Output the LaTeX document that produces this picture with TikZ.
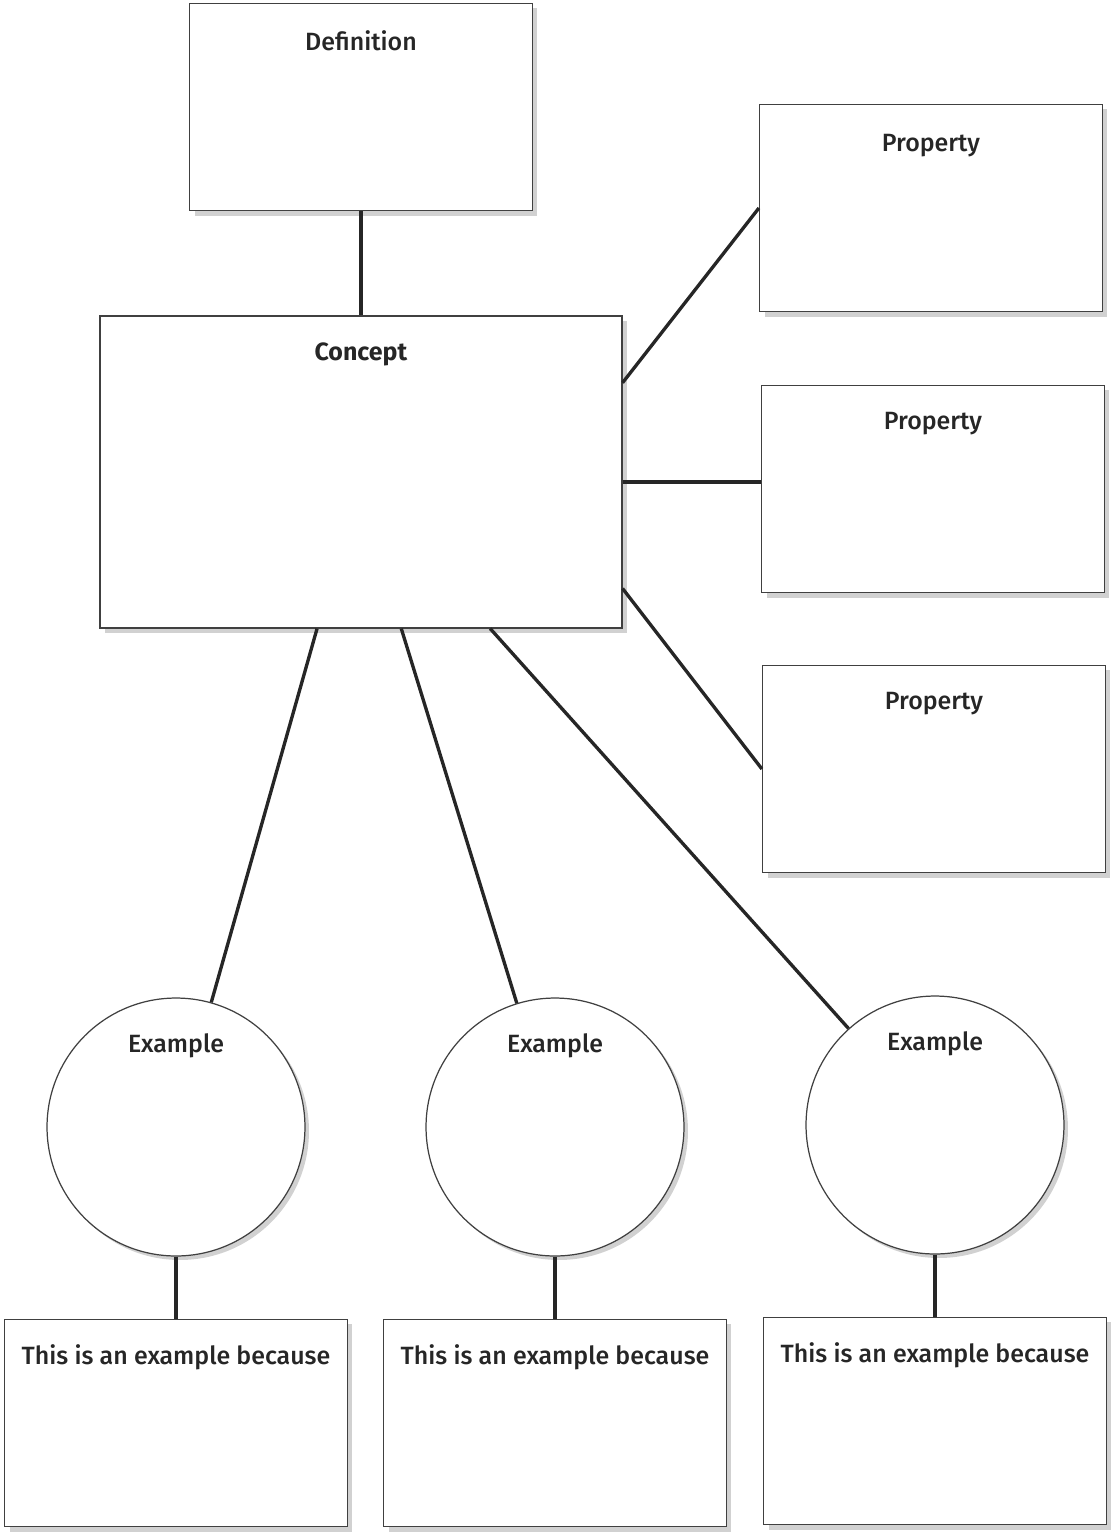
\documentclass[tikz,border=0pt]{standalone}
\usepackage{fontspec}
\setmainfont{Fira Sans}[UprightFont=* Medium, BoldFont=* Bold]
\usetikzlibrary{positioning,shadows,calc}

\begin{document}
\begin{tikzpicture}[x=0.02cm, y=-0.02cm, line width=1.6pt,
    every label/.style={font=\fontsize{14.2}{17}\selectfont, text=black!85},
    box/.style={rectangle, draw=black!75, fill=white, line width=0.7pt,
        minimum width=6.86cm, minimum height=4.15cm,
        drop shadow={shadow xshift=0.1cm, shadow yshift=-0.1cm, fill=black!30, opacity=0.6}},
    bubble/.style={circle, draw=black!75, fill=white, line width=0.7pt,
        minimum size=5.16cm, inner sep=0pt,
        drop shadow={shadow xshift=0.08cm, shadow yshift=-0.08cm, fill=black!30, opacity=0.6}},
    link/.style={draw=black!85, line width=1.9pt}]
    \useasboundingbox (0,0) rectangle (1115,1535);
    \node[box, minimum width=10.44cm, minimum height=6.24cm,
        label={[anchor=north, inner sep=0pt, yshift=-0.52cm]north:\textbf{Concept}}] (concept) at (361,472) {};
    \node[box, above=2.08cm of concept,
        label={[anchor=north, inner sep=0pt, yshift=-0.52cm]north:Definition}] (def) {};
    \node[box, label={[anchor=north, inner sep=0pt, yshift=-0.58cm]north:Property}] (prop1) at (931,208) {};
    \node[box, label={[anchor=north, inner sep=0pt, yshift=-0.52cm]north:Property}] (prop2) at (933,489) {};
    \node[box, label={[anchor=north, inner sep=0pt, yshift=-0.52cm]north:Property}] (prop3) at (934,769) {};
    \node[bubble, label={[anchor=north, inner sep=0pt, yshift=-0.7cm]north:Example}] (ex1) at (176,1127) {};
    \node[bubble, label={[anchor=north, inner sep=0pt, yshift=-0.7cm]north:Example}] (ex2) at (555,1127) {};
    \node[bubble, label={[anchor=north, inner sep=0pt, yshift=-0.7cm]north:Example}] (ex3) at (935,1125) {};
    \node[box, below=1.24cm of ex1,
        label={[anchor=north, inner sep=0pt, yshift=-0.5cm]north:This is an example because}] (why1) {};
    \node[box, below=1.24cm of ex2,
        label={[anchor=north, inner sep=0pt, yshift=-0.5cm]north:This is an example because}] (why2) {};
    \node[box, below=1.24cm of ex3,
        label={[anchor=north, inner sep=0pt, yshift=-0.5cm]north:This is an example because}] (why3) {};
    % links
    \draw[link] (def) -- (concept);
    \draw[link] ($(concept.north east)!0.215!(concept.south east)$) -- (prop1.west);
    \draw[link] ($(concept.north east)!0.532!(concept.south east)$) coordinate (mid)
        -- (mid -| prop2.west);
    \draw[link] ($(concept.north east)!0.872!(concept.south east)$) -- (prop3.west);
    \draw[link] ($(concept.south west)!0.416!(concept.south east)$) -- (ex1);
    \draw[link] ($(concept.south west)!0.577!(concept.south east)$) -- (ex2);
    \draw[link] ($(concept.south west)!0.747!(concept.south east)$) -- (ex3);
    \draw[link] (ex1) -- (why1);
    \draw[link] (ex2) -- (why2);
    \draw[link] (ex3) -- (why3);
\end{tikzpicture}
\end{document}
